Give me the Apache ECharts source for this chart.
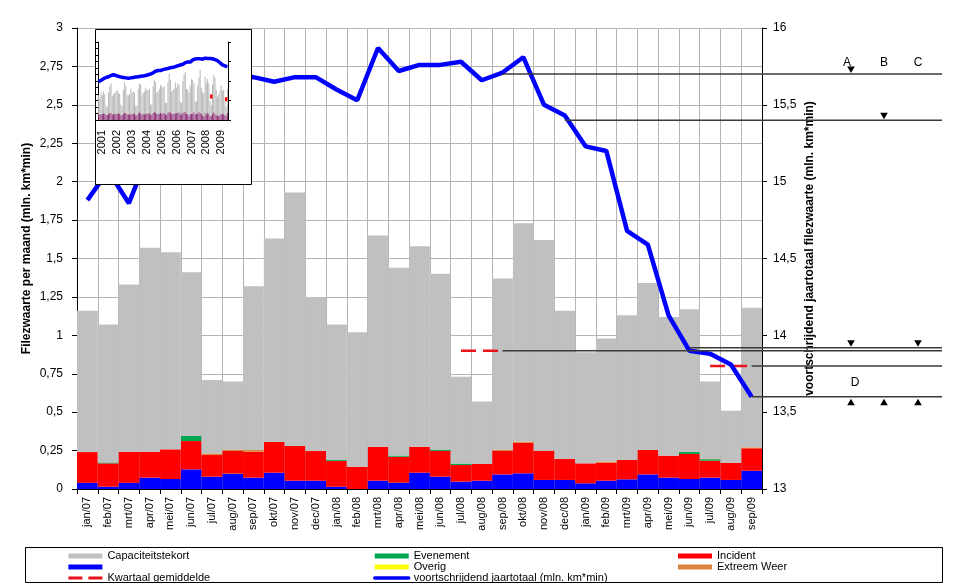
<!DOCTYPE html>
<html><head><meta charset="utf-8">
<script src="https://cdn.jsdelivr.net/npm/echarts@6/dist/echarts.min.js"></script>
<style>html,body{margin:0;padding:0;background:#fff}#c{width:962px;height:586px}</style>
</head><body><div id="c"></div>
<script>
// ---------- main chart data ----------
const months = ['jan/07','feb/07','mrt/07','apr/07','mei/07','jun/07','jul/07','aug/07','sep/07','okt/07','nov/07','dec/07',
  'jan/08','feb/08','mrt/08','apr/08','mei/08','jun/08','jul/08','aug/08','sep/08','okt/08','nov/08','dec/08',
  'jan/09','feb/09','mrt/09','apr/09','mei/09','jun/09','jul/09','aug/09','sep/09'];
const blueBase = [.04,.015,.04,.074,.065,.128,.08,.10,.074,.106,.054,.054,.015,0,.054,.041,.106,.08,.048,.054,.095,.102,.059,.059,.037,.054,.063,.095,.074,.065,.074,.059,.119];
const incident = [.20,.152,.203,.169,.193,.184,.141,.149,.169,.20,.226,.193,.167,.145,.221,.169,.169,.169,.108,.109,.154,.199,.19,.136,.13,.117,.126,.159,.143,.163,.11,.112,.146];
const evenement = [0,.006,0,0,0,.033,0,0,0,0,0,0,.006,0,0,.008,0,.008,.01,0,0,0,0,0,0,0,0,0,0,.013,.01,0,0];
const overig = [0,0,0,0,0,0,0,0,0,0,0,0,0,0,0,0,0,0,0,0,0,0,0,0,0,0,0,0,0,0,0,0,0];
const extreemWeer = [0,0,0,0,0,0,.01,.008,.01,0,0,0,0,0,0,0,0,0,0,0,.006,.008,0,0,0,.008,0,0,0,0,.004,0,.006];
const capaciteitstekort = [.92,.897,1.087,1.327,1.282,1.065,.479,.443,1.067,1.324,1.65,1.003,.882,.875,1.375,1.222,1.305,1.143,.564,.407,1.115,1.421,1.371,.965,.723,.801,.941,1.086,.903,.929,.502,.339,.909];
const kwartaal = [null,null,null,null,null,null,null,null,null,null,null,null,null,null,null,null,null,null,.9,.9,.9,null,null,null,null,null,null,null,null,null,.8,.8,.8];
const jaartotaal = [14.88,15.07,14.86,15.2,15.4,15.55,15.65,15.7,15.68,15.65,15.68,15.68,15.60,15.53,15.87,15.72,15.76,15.76,15.78,15.66,15.71,15.81,15.50,15.43,15.23,15.20,14.68,14.59,14.13,13.90,13.88,13.81,13.60];
const leftAxisRange = [0, 3, 0.25];
const rightAxisRange = [13, 16, 0.5];

// annotation levels (right axis)
const annotFrom  = ['sep/08','dec/08','sep/08','jun/09','sep/09','sep/09'];
const annotLevel = [15.70, 15.40, 13.90, 13.92, 13.80, 13.60];
const annotLetters = ['A','B','C'];
// [level index, column letter, direction]
const annotMarkers = [[0,'A','down'],[1,'B','down'],[3,'A','down'],[3,'C','down'],[5,'A','up'],[5,'B','up'],[5,'C','up']];

// ---------- inset data (2001-2006 estimated, 2007-2009 from main) ----------
const insetTotalEarly = [
 0.95,0.85,1.05,0.95,1.10,1.00,0.55,0.50,1.05,1.30,1.40,0.90,
 1.00,1.05,1.10,1.15,1.05,1.00,0.60,0.55,1.15,1.45,1.30,0.95,
 0.95,1.00,1.20,1.05,1.10,1.05,0.55,0.55,1.20,1.40,1.35,0.95,
 1.05,1.10,1.25,1.15,1.15,1.20,0.60,0.60,1.30,1.55,1.45,1.05,
 1.10,1.20,1.35,1.30,1.25,1.30,0.65,0.65,1.45,1.80,1.55,1.10,
 1.15,1.20,1.45,1.25,1.40,1.35,0.70,0.65,1.50,1.75,1.85,1.20];
const insetBottomEarly = [
 .22,.20,.23,.24,.26,.25,.19,.20,.24,.28,.27,.21,
 .23,.22,.25,.24,.26,.25,.18,.19,.25,.29,.27,.22,
 .22,.21,.24,.23,.25,.26,.18,.19,.26,.30,.26,.21,
 .23,.22,.25,.26,.24,.27,.20,.21,.27,.31,.28,.23,
 .24,.23,.27,.25,.28,.26,.19,.22,.28,.32,.29,.24,
 .25,.23,.26,.28,.27,.30,.21,.22,.27,.31,.30,.24];
const insetLineEarly = [
 9.8,10.0,10.2,10.4,10.6,10.8,10.9,11.0,11.1,11.3,11.4,11.5,
 11.6,11.5,11.4,11.3,11.2,11.1,11.0,10.9,10.9,10.8,10.8,10.8,
 10.7,10.7,10.8,10.8,10.9,10.9,11.0,11.0,11.1,11.1,11.2,11.2,
 11.3,11.3,11.4,11.5,11.6,11.7,11.8,11.9,12.1,12.3,12.5,12.6,
 12.7,12.6,12.7,12.8,12.9,13.0,13.1,13.1,13.2,13.3,13.4,13.4,
 13.5,13.6,13.7,13.8,13.9,14.0,14.1,14.2,14.3,14.5,14.7,14.8];
const insetYears = ['2001','2002','2003','2004','2005','2006','2007','2008','2009'];

// ---------- build ----------
const r3 = v => Math.round(v*1000)/1000;
const mainTotal = months.map((m,i)=>blueBase[i]+incident[i]+evenement[i]+overig[i]+extreemWeer[i]+capaciteitstekort[i]);
const mainBottom = months.map((m,i)=>blueBase[i]+incident[i]);
const insetMonths = [];
insetYears.forEach(y => { for (let k=1;k<=12;k++){ if (insetMonths.length<105) insetMonths.push(y+'-'+k); } });
const insetBottom = insetBottomEarly.concat(mainBottom).map(r3);
const insetGrey = insetTotalEarly.concat(mainTotal).map((t,i)=>r3(t-insetBottom[i]));
const insetLine = insetLineEarly.concat(jaartotaal);
const insetKw = new Array(72).fill(null).concat(kwartaal);

const FONT = "'Liberation Sans', Arial, sans-serif";
const comma = v => String(v).replace('.', ',');

const barBase = {type:'bar', stack:'main', xAxisIndex:0, yAxisIndex:0, barWidth:'100%', barCategoryGap:'0%', z:2};
const legendBase = {top:545, height:60, orient:'vertical', itemGap:-1, itemWidth:34, itemHeight:5, selectedMode:false,
  textStyle:{fontSize:11, lineHeight:12, color:'#000', fontFamily:FONT}};
const noSym = {opacity:0};

const option = {
  animation:false,
  backgroundColor:'#fff',
  textStyle:{fontFamily:FONT, color:'#000'},
  grid:[
    {left:77, right:200, top:28, bottom:97},
    {left:98, top:42, width:130, height:78}
  ],
  legend:[
    Object.assign({}, legendBase, {left:62,
     data:[{name:'Capaciteitstekort',icon:'rect'},{name:' ',icon:'rect'},
           {name:'Kwartaal gemiddelde', itemStyle:noSym, lineStyle:{width:2.8, type:[14,6], color:'#e8141b'}}]}),
    Object.assign({}, legendBase, {left:368,
     data:[{name:'Evenement',icon:'rect'},{name:'Overig',icon:'rect'},
           {name:'voortschrijdend jaartotaal (mln. km*min)', itemStyle:noSym, lineStyle:{width:3.5, color:'#0000ff', cap:'round'}}]}),
    Object.assign({}, legendBase, {left:673,
     data:[{name:'Incident',icon:'rect'},{name:'Extreem Weer',icon:'rect'}]})
  ],
  xAxis:[
    {type:'category', gridIndex:0, data:months, boundaryGap:true,
     axisLine:{lineStyle:{color:'#000', width:1}},
     axisTick:{show:true, length:5, interval:0, lineStyle:{color:'#000'}},
     axisLabel:{rotate:90, interval:0, fontSize:11, color:'#000', fontFamily:FONT, margin:8},
     splitLine:{show:true, interval:0, lineStyle:{color:'#b4b4b4', width:1}}},
    {type:'category', gridIndex:1, data:insetMonths, boundaryGap:true, z:11,
     axisLine:{lineStyle:{color:'#000', width:1}},
     axisTick:{show:false},
     axisLabel:{rotate:90, interval:(i)=>i%12===3, formatter:(v)=>v.slice(0,4), fontSize:11, color:'#000', fontFamily:FONT, margin:10},
     splitLine:{show:false}}
  ],
  yAxis:[
    {type:'value', gridIndex:0, min:leftAxisRange[0], max:leftAxisRange[1], interval:leftAxisRange[2], position:'left',
     name:'Filezwaarte per maand (mln. km*min)', nameLocation:'middle', nameRotate:90, nameGap:44, nameMoveOverlap:false,
     nameTextStyle:{fontWeight:'bold', fontSize:12, color:'#000', fontFamily:FONT, padding:[0,0,0,20]},
     axisLine:{show:true, lineStyle:{color:'#000'}},
     axisTick:{show:true, length:5, lineStyle:{color:'#000'}},
     axisLabel:{formatter:comma, fontSize:12, color:'#000', fontFamily:FONT, margin:14},
     splitLine:{show:true, lineStyle:{color:'#b4b4b4', width:1}}},
    {type:'value', gridIndex:0, min:rightAxisRange[0], max:rightAxisRange[1], interval:rightAxisRange[2], position:'right',
     name:'voortschrijdend jaartotaal filezwaarte (mln. km*min)', nameLocation:'middle', nameRotate:90, nameGap:42, nameMoveOverlap:false,
     nameTextStyle:{fontWeight:'bold', fontSize:12, color:'#000', fontFamily:FONT, padding:[0,0,0,20]},
     axisLine:{show:true, lineStyle:{color:'#000'}},
     axisTick:{show:true, length:5, lineStyle:{color:'#000'}},
     axisLabel:{formatter:comma, fontSize:12, color:'#000', fontFamily:FONT, margin:11},
     splitLine:{show:false}},
    {type:'value', gridIndex:1, min:0, max:3, interval:0.25, position:'left', z:11,
     axisLine:{show:true, lineStyle:{color:'#000'}},
     axisTick:{show:true, length:3, lineStyle:{color:'#000'}},
     axisLabel:{show:false}, splitLine:{show:false}},
    {type:'value', gridIndex:1, min:0, max:20, interval:5, position:'right', z:11,
     axisLine:{show:true, lineStyle:{color:'#000'}},
     axisTick:{show:true, length:3, lineStyle:{color:'#000'}},
     axisLabel:{show:false}, splitLine:{show:false}}
  ],
  series:[
    Object.assign({}, barBase, {name:' ', data:blueBase, itemStyle:{color:'#0000ff'}}),
    Object.assign({}, barBase, {name:'Incident', data:incident, itemStyle:{color:'#ff0000'}}),
    Object.assign({}, barBase, {name:'Evenement', data:evenement, itemStyle:{color:'#00a651'}}),
    Object.assign({}, barBase, {name:'Overig', data:overig, itemStyle:{color:'#ffff00'}}),
    Object.assign({}, barBase, {name:'Extreem Weer', data:extreemWeer, itemStyle:{color:'#d9843a'}}),
    Object.assign({}, barBase, {name:'Capaciteitstekort', data:capaciteitstekort, itemStyle:{color:'#c0c0c0'}}),
    {type:'line', name:'Kwartaal gemiddelde', xAxisIndex:0, yAxisIndex:0, data:kwartaal, symbol:'none', z:4,
     connectNulls:false, itemStyle:{color:'#e8141b'}, lineStyle:{color:'#e8141b', width:2.5, type:[15,7]}},
    {type:'line', name:'voortschrijdend jaartotaal (mln. km*min)', xAxisIndex:0, yAxisIndex:1, data:jaartotaal, symbol:'none', z:5,
     itemStyle:{color:'#0000ff'}, lineStyle:{color:'#0000ff', width:4.5}},
    // inset
    {type:'bar', name:'inset-bottom', stack:'inset', xAxisIndex:1, yAxisIndex:2, data:insetBottom, barCategoryGap:'25%', z:12,
     itemStyle:{color:'#8a2f72'}},
    {type:'bar', name:'inset-grey', stack:'inset', xAxisIndex:1, yAxisIndex:2, data:insetGrey, barCategoryGap:'25%', z:12,
     itemStyle:{color:'#b8b8b8'}},
    {type:'line', name:'inset-kw', xAxisIndex:1, yAxisIndex:2, data:insetKw, symbol:'none', z:14,
     lineStyle:{color:'#ff0000', width:4}},
    {type:'line', name:'inset-line', xAxisIndex:1, yAxisIndex:3, data:insetLine, symbol:'none', z:13,
     lineStyle:{color:'#0000ff', width:3.5}}
  ]
};

const chart = echarts.init(document.getElementById('c'), null, {renderer:'canvas'});
chart.setOption(option);

// ---------- annotations via the chart's own scales ----------
const X = c => chart.convertToPixel({xAxisIndex:0}, c);
const YR = v => chart.convertToPixel({yAxisIndex:1}, v);
const lineEndX = 942;
const colX = {A:851, B:884, C:918};
const g = [];
g.push({type:'rect', id:'insetBox', z:10, shape:{x:95.5, y:29.5, width:156, height:155},
        style:{fill:'#fff', stroke:'#000', lineWidth:1}});
g.push({type:'rect', id:'legendBox', z:1, shape:{x:25.5, y:547.5, width:917, height:35},
        style:{fill:'none', stroke:'#000', lineWidth:1}});
annotLevel.forEach((v,i)=>{
  const y = YR(v), x0 = X(annotFrom[i]);
  g.push({type:'line', z:6, shape:{x1:x0, y1:y, x2:lineEndX, y2:y}, style:{stroke:'#3a3a3a', lineWidth:1.5}});
});
annotMarkers.forEach(([li,col,dir])=>{
  const y = YR(annotLevel[li]), x = colX[col];
  const pts = dir==='down'
    ? [[x-3.8,y-7.5],[x+3.8,y-7.5],[x,y-1]]
    : [[x-3.8,y+8.5],[x+3.8,y+8.5],[x,y+2]];
  g.push({type:'polygon', z:7, shape:{points:pts}, style:{fill:'#000'}});
});
annotLetters.forEach(l=>{
  g.push({type:'text', z:7, x:colX[l]-(l==='A'?4:0), y:YR(annotLevel[0])-11,
          style:{text:l, fill:'#000', font:'12px '+FONT, align:'center', verticalAlign:'middle'}});
});
g.push({type:'text', z:7, x:colX.A+4, y:(YR(annotLevel[4])+YR(annotLevel[5]))/2 + 1,
        style:{text:'D', fill:'#000', font:'12px '+FONT, align:'center', verticalAlign:'middle'}});
chart.setOption({graphic:g});
</script></body></html>
